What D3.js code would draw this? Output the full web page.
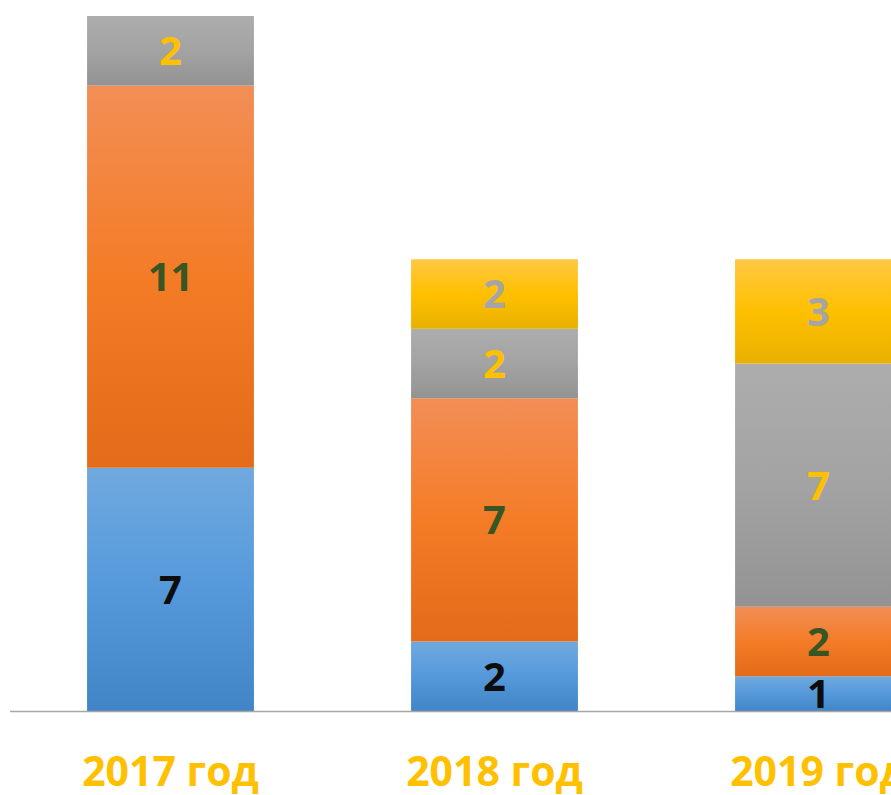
<!DOCTYPE html>
<html>
<head>
<meta charset="utf-8">
<script src="https://cdn.jsdelivr.net/npm/d3@7"></script>
<style>
    body { margin: 0; background: #fff; }
    svg { display: block; }
</style>
</head>
<body>
<div id="chart"></div>
<script>

// data
var years = [ '2017 год', '2018 год', '2019 год' ];
var seriesBlue = [ 7, 2, 1 ];
var seriesOrange = [ 11, 7, 2 ];
var seriesGray = [ 2, 2, 7 ];
var seriesYellow = [ 0, 2, 3 ];

var width = 891,
    height = 795,
    baseY = 711;

var series = [
    { key: 'blue', values: seriesBlue, stops: [ '#70a9de', '#5599db', '#4185c7' ], label: '#0d0d0d' },
    { key: 'orange', values: seriesOrange, stops: [ '#f28e56', '#f47c27', '#e36b19' ], label: '#375623' },
    { key: 'gray', values: seriesGray, stops: [ '#adadad', '#a3a3a3', '#939393' ], label: '#ffc000' },
    { key: 'yellow', values: seriesYellow, stops: [ '#ffc844', '#ffc000', '#e8b000' ], label: '#a5a5a5' }
];

var svg = d3.select('#chart').append('svg')
    .attr('width', width)
    .attr('height', height);

var x = d3.scaleBand()
    .domain( years )
    .range([ 8.5, 980.5 ])
    .paddingInner( 0.485 )
    .paddingOuter( 0.2425 );

var y = d3.scaleLinear()
    .domain([ 0, 20 ])
    .range([ baseY, 16 ]);

// gradients
var defs = svg.append('defs');

series.forEach( function ( s ) {
    var grad = defs.append('linearGradient')
        .attr('id', 'grad-' + s.key)
        .attr('x1', 0).attr('y1', 0)
        .attr('x2', 0).attr('y2', 1);
    grad.append('stop').attr('offset', '0%').attr('stop-color', s.stops[0]);
    grad.append('stop').attr('offset', '50%').attr('stop-color', s.stops[1]);
    grad.append('stop').attr('offset', '100%').attr('stop-color', s.stops[2]);
});

var stack = d3.stack()
    .keys( series.map( function ( s ) { return s.key } ) );

var rows = years.map( function ( yr, i ) {
    var r = { year: yr };
    series.forEach( function ( s ) { r[ s.key ] = s.values[ i ] });
    return r;
});

var layers = stack( rows );

layers.forEach( function ( layer, li ) {

    var s = series[ li ];

    var g = svg.append('g').attr('class', 'layer-' + s.key);

    var segs = layer.filter( function ( d ) { return d[1] - d[0] > 0 } );

    g.selectAll('rect')
        .data( segs )
        .enter().append('rect')
        .attr('x', function ( d ) { return x( d.data.year ) })
        .attr('width', x.bandwidth())
        .attr('y', function ( d ) { return y( d[1] ) })
        .attr('height', function ( d ) { return y( d[0] ) - y( d[1] ) })
        .style('fill', 'url(#grad-' + s.key + ')');

    g.selectAll('text')
        .data( segs )
        .enter().append('text')
        .attr('x', function ( d ) { return x( d.data.year ) + x.bandwidth() / 2 })
        .attr('y', function ( d ) { return ( y( d[0] ) + y( d[1] ) ) / 2 })
        .attr('dy', '0.36em')
        .attr('text-anchor', 'middle')
        .style('font-family', '"Open Sans", sans-serif')
        .style('font-weight', 700)
        .style('font-size', '40px')
        .style('fill', s.label)
        .text( function ( d ) { return d[1] - d[0] } );

});

// baseline
svg.append('line')
    .attr('x1', 10)
    .attr('x2', width)
    .attr('y1', baseY + 0.5)
    .attr('y2', baseY + 0.5)
    .style('stroke', '#a6a6a6')
    .style('stroke-width', 1.5);

// category labels
svg.selectAll('.cat')
    .data( years )
    .enter().append('text')
    .attr('class', 'cat')
    .attr('x', function ( d ) { return x( d ) + x.bandwidth() / 2 })
    .attr('y', 786)
    .attr('text-anchor', 'middle')
    .style('font-family', '"Open Sans", sans-serif')
    .style('font-weight', 700)
    .style('font-size', '41px')
    .style('fill', '#ffc000')
    .text( function ( d ) { return d } );

</script>
</body>
</html>
